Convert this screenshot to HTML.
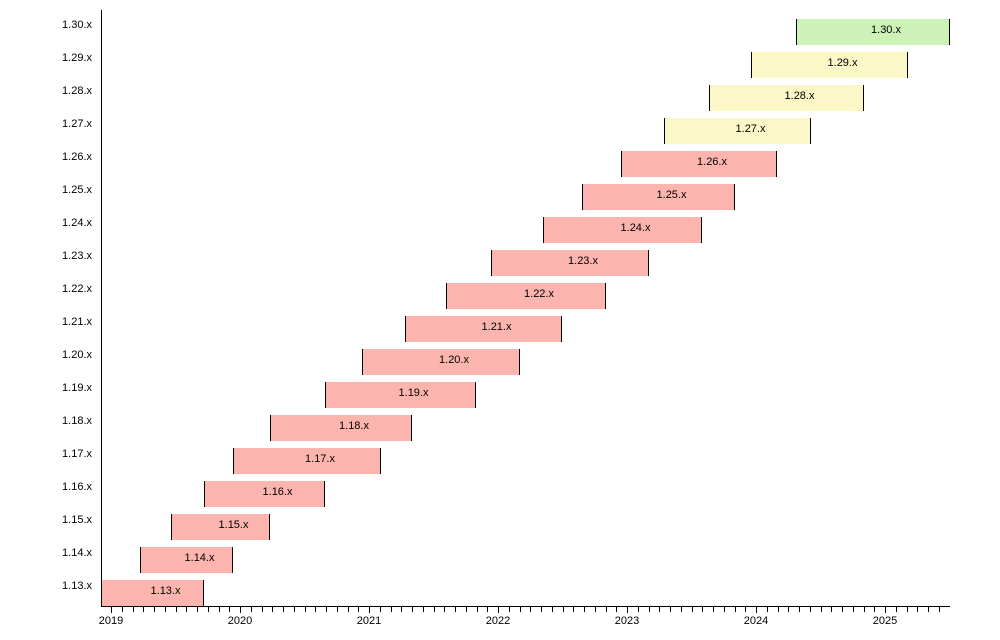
<!DOCTYPE html><html><head><style>body{margin:0;background:#fff}</style></head><body>
<svg width="1000" height="635" xmlns="http://www.w3.org/2000/svg" font-family="Liberation Sans, sans-serif" font-size="11">
<g id="bars"></g>
<line x1="101.5" y1="10" x2="101.5" y2="607" stroke="#000"/>
<line x1="101" y1="606.5" x2="950" y2="606.5" stroke="#000"/>
<g id="ticks" stroke="#000"></g>
<g id="lab" text-anchor="middle"></g>
</svg>
<script>
const d=[[101,204],[140,233],[171,270],[204,325],[233,381],[270,412],[325,476],[362,520],[405,562],[446,606],[491,649],[543,702],[582,735],[621,777],[664,811],[709,864],[751,908],[796,950]];
let s='';
d.forEach((b,i)=>{const y=580-33*i;const v='1.'+(13+i)+'.x';
const c=i==17?'#ccf2b8':(i>=14?'#fbf7c6':'#fbb4ae');
s+=`<rect x="${b[0]}" y="${y}" width="${b[1]-b[0]}" height="26" fill="${c}"/>`;
s+=`<line x1="${b[0]+.5}" y1="${y}" x2="${b[0]+.5}" y2="${y+26}" stroke="#000"/><line x1="${b[1]-.5}" y1="${y}" x2="${b[1]-.5}" y2="${y+26}" stroke="#000"/>`;
s+=`<text x="${(b[0]+b[1])/2+13}" y="${y+14}" text-anchor="middle">${v}</text>`;
s+=`<text x="92" y="${y+9}" text-anchor="end">${v}</text>`;});
document.getElementById('bars').innerHTML=s;
let t='',l='';
for(let m=0;m<78;m++){const x=111+m*129/12;if(x>950)break;const X=Math.round(x)+.5;
t+=`<line x1="${X}" y1="607" x2="${X}" y2="${m%12==0?613:612}"/>`;
if(m%12==0)l+=`<text x="${x}" y="624">${2019+m/12}</text>`;}
document.getElementById('ticks').innerHTML=t;document.getElementById('lab').innerHTML=l;
</script></body></html>
